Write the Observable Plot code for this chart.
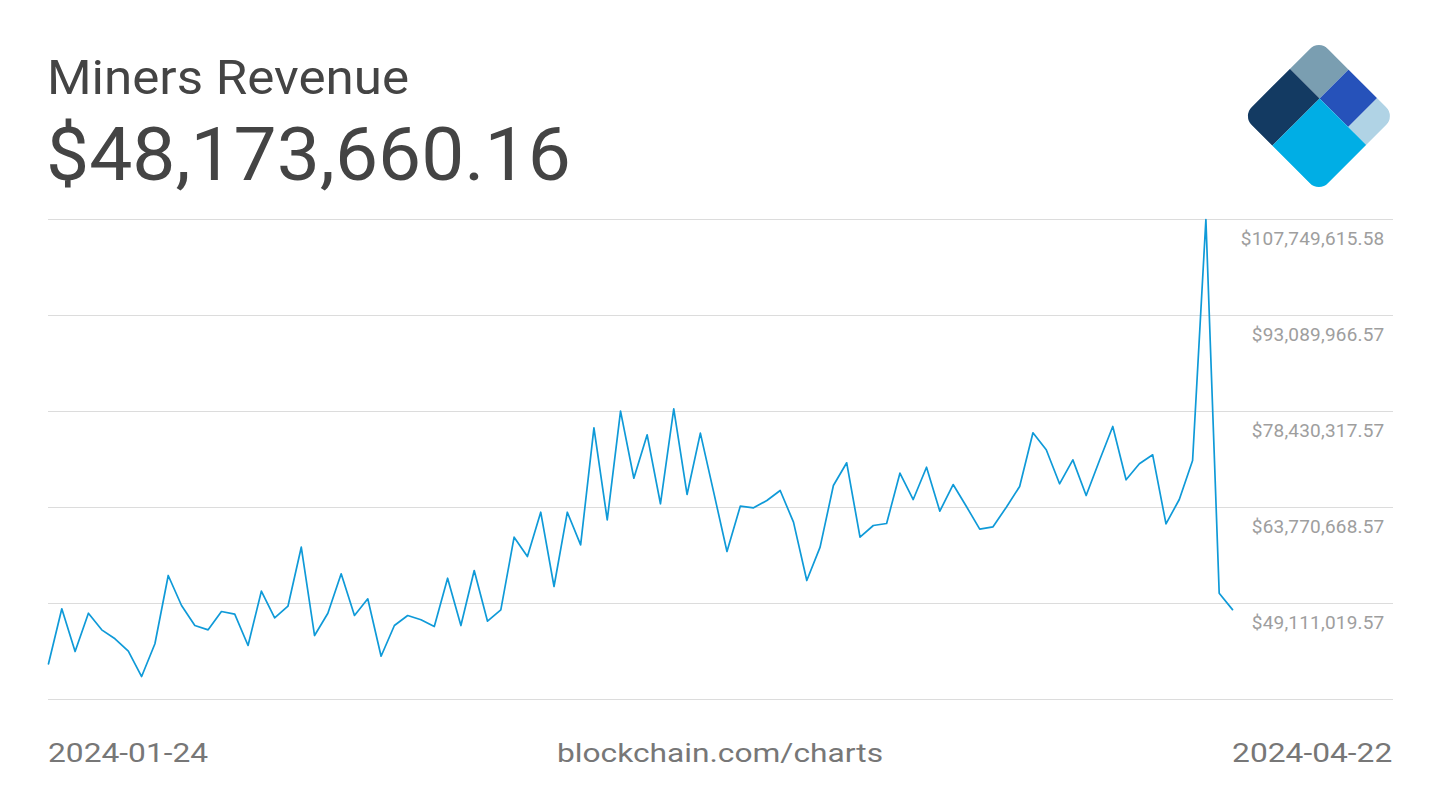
<!DOCTYPE html>
<html>
<head>
<meta charset="utf-8">
<script src="https://cdn.jsdelivr.net/npm/d3@7"></script>
<script src="https://cdn.jsdelivr.net/npm/@observablehq/plot@0.6"></script>
<style>
  html, body { margin: 0; padding: 0; background: #fff; }
  body { width: 1440px; height: 810px; position: relative; overflow: hidden; font-family: Roboto, "Noto Sans", sans-serif; }
  .abs { position: absolute; line-height: 1; white-space: nowrap; }
  #title { left: 47px; top: 53px; font-size: 49px; color: #444; transform: scaleX(1.043); transform-origin: left center; }
  #value { left: 46px; top: 118px; font-size: 74px; color: #444; transform: scaleX(1.037); transform-origin: left center; }
  #chart { position: absolute; left: 0; top: 200px; }
  .foot { top: 740px; font-size: 26px; color: #777; }
  #start { left: 48px; transform: scaleX(1.22); transform-origin: left center; }
  #source { left: 720px; transform: translateX(-50%) scaleX(1.22); transform-origin: center center; }
  #end { right: 48px; transform: scaleX(1.22); transform-origin: right center; }
  #logo { position: absolute; left: 1240px; top: 38px; }
</style>
</head>
<body>
<div id="title" class="abs"></div>
<div id="value" class="abs"></div>
<svg id="logo" width="158" height="158" viewBox="0 0 158 158">
  <defs>
    <clipPath id="diamondClip"><rect x="0" y="0" width="108" height="108" rx="13" ry="13"></rect></clipPath>
  </defs>
  <g transform="translate(78.9,1.7) rotate(45)" clip-path="url(#diamondClip)">
    <rect x="0" y="0" width="42" height="41" fill="#7a9eb1"></rect>
    <rect x="0" y="41" width="42" height="67" fill="#133a62"></rect>
    <rect x="42" y="0" width="40.5" height="41" fill="#2652ba"></rect>
    <rect x="82.5" y="0" width="25.5" height="41" fill="#b0d3e5"></rect>
    <rect x="42" y="41" width="66" height="67" fill="#00aee5"></rect>
  </g>
</svg>
<div id="chart"></div>
<div id="start" class="abs foot"></div>
<div id="source" class="abs foot"></div>
<div id="end" class="abs foot"></div>
<script>
// ---- data ----
const titleText = "Miners Revenue";
const headlineValue = "$48,173,660.16";
const sourceText = "blockchain.com/charts";
const startDate = "2024-01-24";
const endDate = "2024-04-22";

// Daily miners revenue (USD), 2024-01-24 .. 2024-04-22
const revenue = [
  39900000, 48300000, 41780000, 47630000, 45090000, 43720000, 41830000, 37960000, 42960000, 53390000,
  48810000, 45750000, 45090000, 47890000, 47480000, 42700000, 50990000, 46930000, 48700000, 57710000,
  44220000, 47630000, 53650000, 47280000, 49830000, 41060000, 45750000, 47280000, 46620000, 45600000,
  52970000, 45750000, 54150000, 46410000, 48150000, 59240000, 56290000, 63050000, 51710000, 63050000,
  58070000, 75940000, 61890000, 78480000, 68240000, 74870000, 64340000, 78840000, 65760000, 75120000,
  66110000, 57050000, 63970000, 63720000, 64840000, 66370000, 61530000, 52620000, 57710000, 67130000,
  70600000, 59240000, 61020000, 61330000, 69010000, 64990000, 69920000, 63210000, 67280000, 63920000,
  60460000, 60820000, 63820000, 66980000, 75180000, 72580000, 67390000, 71050000, 65600000, 70950000,
  76140000, 68000000, 70440000, 71820000, 61280000, 64990000, 70950000, 107749615.58, 50680000, 48173660.16
];

// y gridlines (bottom one unlabeled)
const gridTicks = [34451370.57, 49111019.57, 63770668.57, 78430317.57, 93089966.57, 107749615.58];
const labeledTicks = [49111019.57, 63770668.57, 78430317.57, 93089966.57, 107749615.58];

// ---- build ----
const dates = d3.utcDay.range(new Date(startDate + "T00:00Z"), d3.utcDay.offset(new Date(endDate + "T00:00Z"), 1));
const table = dates.map((d, i) => ({date: d, value: revenue[i]}));
const fmt = d => "$" + d3.format(",.2f")(d);

document.getElementById("title").textContent = titleText;
document.getElementById("value").textContent = headlineValue;
document.getElementById("start").textContent = startDate;
document.getElementById("end").textContent = endDate;
document.getElementById("source").textContent = sourceText;

const plot = Plot.plot({
  width: 1440,
  height: 520,
  marginTop: 19,
  marginBottom: 21,
  marginLeft: 48,
  marginRight: 47,
  style: {fontFamily: "Roboto, sans-serif", background: "transparent", overflow: "visible", letterSpacing: "0.2px"},
  x: {type: "utc", insetRight: 161, axis: null},
  y: {domain: [gridTicks[0], gridTicks[gridTicks.length - 1]], axis: null},
  marks: [
    Plot.ruleY(gridTicks, {stroke: "#dcdcdc", strokeWidth: 1}),
    Plot.lineY(table, {x: "date", y: "value", stroke: "#0f9ad8", strokeWidth: 1.7}),
    Plot.axisY(labeledTicks, {
      anchor: "right",
      tickSize: 0,
      tickPadding: 0,
      textAnchor: "end",
      dx: -9,
      dy: 19,
      fontSize: 19,
      fill: "#9e9e9e",
      tickFormat: fmt,
      label: null
    })
  ]
});
document.getElementById("chart").appendChild(plot);
</script>
</body>
</html>
